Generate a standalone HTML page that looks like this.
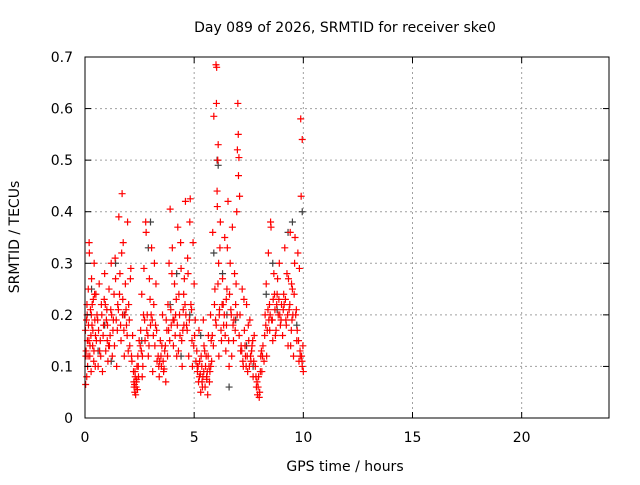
<!DOCTYPE html>
<html><head><meta charset="utf-8"><style>
body{margin:0;background:#fff;}
svg text{font-family:"DejaVu Sans","Liberation Sans",sans-serif;font-size:14px;fill:#000;}
</style></head><body>
<svg id="chart" width="640" height="480" xmlns="http://www.w3.org/2000/svg">
<rect width="640" height="480" fill="#fff"/>
<text x="345" y="32" text-anchor="middle">Day 089 of 2026, SRMTID for receiver ske0</text>
<text transform="translate(19,237) rotate(-90)" text-anchor="middle">SRMTID / TECUs</text>
<text x="345" y="471" text-anchor="middle">GPS time / hours</text>
<g id="grid"></g><g id="gray"></g><g id="red"></g><g id="axes"></g>
</svg>
<script>
const xTicks=[0,5,10,15,20];
const yTicks=[0,0.1,0.2,0.3,0.4,0.5,0.6,0.7];
const yTickLabels=["0","0.1","0.2","0.3","0.4","0.5","0.6","0.7"];
const redHours=[0.02,0.05,0.08,0.1,0.12,0.15,0.18,0.2,0.22,0.25,0.28,0.3,0.32,0.35,0.38,0.4,0.42,0.45,0.48,0.5,0.03,0.07,0.14,0.19,0.27,0.33,0.41,0.47,
0.55,0.6,0.65,0.7,0.75,0.8,0.85,0.9,0.95,1.0,1.05,1.1,1.15,1.2,1.25,1.3,1.35,1.4,1.45,1.5,0.62,0.72,0.88,0.98,1.12,1.22,1.38,1.48,
1.55,1.6,1.65,1.7,1.72,1.75,1.8,1.85,1.9,1.95,2.0,2.05,2.1,2.15,1.58,1.68,1.78,1.88,1.98,2.08,2.18,
2.22,2.25,2.28,2.3,2.32,2.35,2.38,2.4,2.42,2.45,2.48,2.27,2.37,
2.55,2.6,2.65,2.7,2.75,2.8,2.85,2.9,2.95,3.0,3.05,3.1,3.15,3.2,3.25,3.3,2.58,2.68,2.78,2.88,2.98,3.08,3.18,3.28,
3.35,3.4,3.45,3.5,3.55,3.6,3.65,3.7,3.75,3.42,3.52,3.62,3.72,
3.8,3.85,3.9,3.95,4.0,4.05,4.1,4.15,4.2,4.25,4.3,4.35,4.4,4.45,4.5,3.88,3.98,4.08,4.18,4.28,4.38,4.48,
4.55,4.6,4.65,4.7,4.75,4.8,4.85,4.9,4.95,5.0,5.05,4.62,4.72,4.82,4.92,5.02,
5.12,5.15,5.2,5.25,5.3,5.35,5.4,5.45,5.5,5.55,5.6,5.65,5.7,5.75,5.8,5.18,5.28,5.38,5.48,5.58,5.68,5.78,5.22,5.42,5.62,
5.85,5.9,5.95,6.0,6.02,6.05,6.1,6.12,6.15,6.2,6.25,6.3,5.88,5.98,6.08,6.18,6.28,6.03,6.06,6.13,
6.35,6.4,6.45,6.5,6.55,6.6,6.65,6.7,6.75,6.8,6.85,6.9,6.95,6.42,6.52,6.62,6.72,6.82,6.92,
7.0,7.02,7.05,7.03,6.98,7.08,
7.1,7.15,7.2,7.25,7.3,7.35,7.4,7.45,7.5,7.55,7.6,7.65,7.7,7.75,7.18,7.28,7.38,7.48,7.58,7.68,
7.8,7.85,7.9,7.95,8.0,8.05,8.1,8.15,8.2,7.88,7.98,8.08,
8.25,8.3,8.35,8.4,8.45,8.5,8.55,8.6,8.65,8.7,8.75,8.8,8.85,8.9,8.95,9.0,8.32,8.42,8.52,8.62,8.72,8.82,8.92,
9.05,9.1,9.15,9.2,9.25,9.3,9.35,9.4,9.45,9.5,9.55,9.6,9.65,9.7,9.75,9.8,9.85,9.9,9.95,10.0,9.12,9.22,9.32,9.42,9.52,9.62,9.72,9.82,9.92,
9.88,9.95,9.9];
const redTecu=[0.17,0.13,0.08,0.2,0.1,0.25,0.15,0.32,0.12,0.21,0.09,0.27,0.18,0.14,0.23,0.11,0.3,0.19,0.16,0.24,0.065,0.19,0.12,0.34,0.16,0.22,0.13,0.1,
0.2,0.1,0.26,0.15,0.22,0.09,0.18,0.28,0.13,0.21,0.11,0.25,0.16,0.3,0.12,0.19,0.14,0.27,0.1,0.22,0.17,0.12,0.23,0.19,0.14,0.2,0.31,0.17,
0.39,0.28,0.15,0.435,0.2,0.34,0.12,0.26,0.18,0.38,0.22,0.14,0.29,0.11,0.24,0.32,0.17,0.21,0.13,0.27,0.16,
0.09,0.06,0.05,0.08,0.045,0.07,0.1,0.055,0.12,0.08,0.15,0.065,0.075,
0.17,0.24,0.1,0.29,0.15,0.36,0.2,0.12,0.27,0.18,0.33,0.09,0.22,0.14,0.26,0.11,0.13,0.2,0.38,0.16,0.23,0.19,0.3,0.17,
0.12,0.08,0.15,0.1,0.2,0.09,0.13,0.07,0.17,0.11,0.14,0.095,0.19,
0.22,0.3,0.405,0.18,0.33,0.14,0.26,0.2,0.12,0.37,0.24,0.16,0.29,0.1,0.21,0.15,0.28,0.19,0.23,0.13,0.34,0.17,
0.27,0.42,0.18,0.31,0.12,0.38,0.22,0.15,0.34,0.26,0.19,0.2,0.28,0.425,0.1,0.16,
0.13,0.09,0.07,0.11,0.05,0.1,0.08,0.14,0.06,0.12,0.09,0.16,0.07,0.2,0.11,0.1,0.085,0.06,0.13,0.075,0.1,0.15,0.17,0.19,0.045,
0.36,0.585,0.25,0.685,0.61,0.44,0.53,0.3,0.2,0.38,0.15,0.27,0.14,0.19,0.5,0.33,0.22,0.68,0.41,0.12,
0.18,0.35,0.13,0.25,0.42,0.1,0.3,0.2,0.37,0.15,0.28,0.22,0.4,0.16,0.33,0.24,0.12,0.19,0.26,
0.61,0.55,0.505,0.47,0.52,0.43,
0.2,0.14,0.25,0.1,0.17,0.12,0.22,0.09,0.15,0.19,0.11,0.14,0.08,0.16,0.13,0.23,0.1,0.18,0.12,0.15,
0.1,0.06,0.045,0.08,0.05,0.12,0.09,0.14,0.11,0.07,0.04,0.13,
0.2,0.26,0.17,0.32,0.22,0.38,0.19,0.15,0.28,0.21,0.17,0.24,0.2,0.3,0.18,0.22,0.12,0.19,0.37,0.23,0.16,0.27,0.2,
0.16,0.24,0.33,0.19,0.28,0.14,0.21,0.36,0.17,0.25,0.12,0.3,0.2,0.15,0.32,0.11,0.13,0.43,0.1,0.09,0.22,0.18,0.27,0.14,0.2,0.35,0.17,0.29,0.12,
0.58,0.54,0.43];
const extraHours=[0.04,0.09,0.16,0.23,0.29,0.36,0.44,0.52,0.58,0.67,0.77,0.83,0.93,1.03,1.08,1.18,1.28,1.33,1.43,1.53,
1.63,1.73,1.83,1.93,2.03,2.13,2.24,2.29,2.34,2.44,2.53,2.63,2.73,2.83,2.93,3.03,3.13,3.23,3.38,3.48,
3.58,3.68,3.78,3.83,3.93,4.03,4.13,4.23,4.33,4.43,4.53,4.58,4.68,4.78,4.88,4.98,5.08,5.14,5.24,5.32,
5.36,5.44,5.52,5.57,5.64,5.72,5.76,5.83,5.93,6.01,6.09,6.16,6.23,6.33,6.38,6.48,6.58,6.68,6.78,6.88,
6.97,7.06,7.13,7.23,7.33,7.43,7.53,7.63,7.73,7.83,7.93,8.03,8.13,8.23,8.28,8.38,8.48,8.58,8.68,8.78,
8.88,8.98,9.08,9.18,9.28,9.38,9.48,9.58,9.68,9.78,9.86,9.94,9.98,1.02,4.52,6.47,8.46,9.46,0.11,2.62];
const extraTecu=[0.12,0.22,0.18,0.14,0.2,0.17,0.24,0.15,0.19,0.13,0.2,0.16,0.22,0.18,0.14,0.21,0.17,0.24,0.19,0.21,
0.18,0.23,0.2,0.16,0.19,0.12,0.07,0.09,0.06,0.1,0.14,0.12,0.19,0.17,0.14,0.2,0.16,0.18,0.1,0.12,
0.11,0.14,0.12,0.17,0.21,0.19,0.16,0.18,0.2,0.15,0.18,0.22,0.17,0.19,0.21,0.14,0.11,0.1,0.08,0.12,
0.07,0.09,0.1,0.08,0.12,0.09,0.1,0.16,0.22,0.18,0.26,0.21,0.17,0.22,0.2,0.18,0.15,0.21,0.18,0.17,
0.2,0.16,0.13,0.11,0.14,0.12,0.1,0.13,0.11,0.08,0.06,0.09,0.12,0.16,0.18,0.21,0.2,0.19,0.24,0.22,
0.23,0.19,0.21,0.23,0.2,0.22,0.19,0.24,0.21,0.15,0.12,0.11,0.14,0.15,0.24,0.23,0.17,0.26,0.15,0.08];
const grayHours=[0.3,0.9,1.4,1.8,2.6,3.0,3.9,4.4,4.8,5.3,5.9,6.1,6.3,6.6,6.9,7.4,8.3,8.8,9.3,9.7,9.95,1.2,2.9,4.2,6.05,6.5,7.7,8.6,9.5,0.6];
const grayTecu=[0.25,0.18,0.3,0.2,0.15,0.38,0.22,0.12,0.2,0.16,0.32,0.49,0.28,0.06,0.19,0.14,0.24,0.21,0.36,0.18,0.4,0.11,0.33,0.28,0.5,0.2,0.1,0.3,0.38,0.13];

const L=85,R=609,T=57,B=418,NS="http://www.w3.org/2000/svg";
const xS=h=>L+(h/24)*(R-L);
const yS=v=>B-(v/0.7)*(B-T);
function mk(tag,attrs,parent){const e=document.createElementNS(NS,tag);for(const k in attrs)e.setAttribute(k,attrs[k]);parent.appendChild(e);return e;}
const grid=document.getElementById('grid'),axes=document.getElementById('axes');
yTicks.forEach((v,i)=>{
  const y=yS(v);
  if(v>0&&v<0.7){const g=mk('line',{x1:L,x2:R,y1:y,y2:y,stroke:'#a0a0a0','stroke-dasharray':'2,3'},grid);
  
  }
  mk('line',{x1:L,x2:L+6,y1:y,y2:y,stroke:'#000'},axes);
  mk('line',{x1:R,x2:R-6,y1:y,y2:y,stroke:'#000'},axes);
  const t=mk('text',{x:L-12,y:y+5,'text-anchor':'end'},axes);t.textContent=yTickLabels[i];
  
  
});
xTicks.forEach(h=>{
  const x=xS(h);
  if(h>0){const g=mk('line',{x1:x,x2:x,y1:T,y2:B,stroke:'#a0a0a0','stroke-dasharray':'2,3'},grid);
  
  }
  mk('line',{x1:x,x2:x,y1:B,y2:B-6,stroke:'#000'},axes);
  mk('line',{x1:x,x2:x,y1:T,y2:T+6,stroke:'#000'},axes);
  const t=mk('text',{x:x,y:B+24,'text-anchor':'middle'},axes);t.textContent=String(h);
  
  
});
const fr=mk('rect',{x:L,y:T,width:R-L,height:B-T,fill:'none',stroke:'#000'},axes);


function plot(xs,ys,col,gid,name){
  const g=document.getElementById(gid);
  let d='';
  xs.forEach((h,i)=>{const x=xS(h),y=yS(ys[i]);d+=`M${x-3.5},${y}h7M${x},${y-3.5}v7`;});
  const p=mk('path',{d:d,stroke:col,'stroke-width':1.2,fill:'none'},g);
  
  
}
plot(grayHours,grayTecu,'#404040','gray','gray-points');
plot(redHours,redTecu,'#ff0000','red','srmtid-points');
plot(extraHours,extraTecu,'#ff0000','red','srmtid-points-dense');
</script>
</body></html>
